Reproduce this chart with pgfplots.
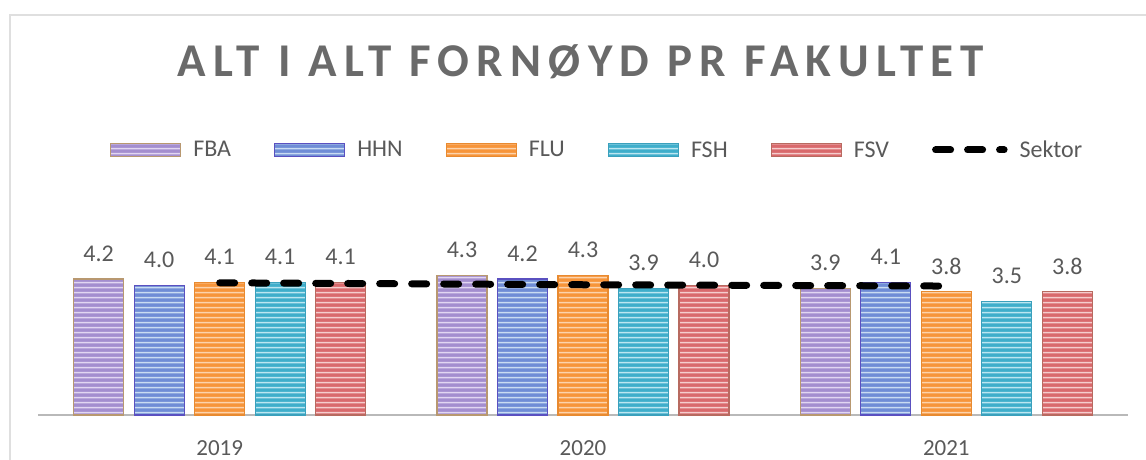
\documentclass[border=0pt]{standalone}
\usepackage{pgfplots}
\pgfplotsset{compat=1.18}
\usepackage{fontspec}
\setmainfont{Carlito}
\usetikzlibrary{patterns.meta}
\definecolor{txt}{HTML}{595959}
\definecolor{ttl}{HTML}{6A6A6A}
\definecolor{cFBA}{HTML}{A48ECF}
\definecolor{sFBA}{HTML}{E2D6F2}
\definecolor{dFBA}{HTML}{B89870}
\definecolor{cHHN}{HTML}{6F8DD6}
\definecolor{sHHN}{HTML}{C9DCF2}
\definecolor{dHHN}{HTML}{5A50C0}
\definecolor{cFLU}{HTML}{F7953A}
\definecolor{sFLU}{HTML}{FCD3AC}
\definecolor{dFLU}{HTML}{E88A30}
\definecolor{cFSH}{HTML}{3FAECB}
\definecolor{sFSH}{HTML}{BCE6F1}
\definecolor{dFSH}{HTML}{3AA0BC}
\definecolor{cFSV}{HTML}{D9696C}
\definecolor{sFSV}{HTML}{F5CDCD}
\definecolor{dFSV}{HTML}{B86A60}
\pgfplotsset{
  barstyle/.style n args={4}{ybar, bar width=50pt, bar shift=#4, fill=#1, draw=#3, line width=1.2pt,
     postaction={pattern={Lines[angle=0,distance=5.4pt,line width=1.6pt]}, pattern color=#2},
     every node near coord/.append style={xshift=#4}},
  sektorlegend/.style={legend image code/.code={\draw[##1] (3.5pt,0pt) -- (72pt,0pt);}},
}
\begin{document}
\begin{tikzpicture}
\useasboundingbox (0,0) rectangle (1146pt,460pt);
\draw[gray!25, line width=2pt] (10pt,-20pt) rectangle (1170pt,445pt);
\begin{axis}[
  at={(38pt,45pt)}, anchor=south west,
  scale only axis, width=1090pt, height=162pt,
  xmin=-0.5, xmax=2.5, ymin=0, ymax=5,
  axis x line=bottom, axis y line=none,
  x axis line style={-, draw=gray!55, line width=2pt},
  xtick={0,1,2}, xticklabels={2019,2020,2021},
  major tick length=0pt,
  xticklabel style={font=\fontsize{23}{27}\selectfont, text=txt, yshift=-22pt},
  clip=false,
  /pgf/number format/assume math mode=true,
  nodes near coords={\pgfmathprintnumber[fixed,fixed zerofill,precision=1]{\pgfplotspointmeta}},
  every node near coord/.append style={font=\fontsize{24}{28}\selectfont, text=txt, inner sep=0pt, anchor=south, yshift=17pt},
  title={\fontsize{47}{52}\selectfont\bfseries\addfontfeatures{LetterSpace=15.5}ALT I ALT FORNØYD PR FAKULTET},
  title style={at={(axis description cs:0.498,2.142)}, anchor=center, text=ttl, inner sep=0pt},
  legend columns=6,
  legend style={at={(axis description cs:0.066,1.636)}, anchor=west, draw=none, fill=none,
    font=\fontsize{24}{28}\selectfont, text=txt, inner sep=0pt,
    nodes={inner sep=0pt},
    /tikz/every odd column/.append style={column sep=12pt},
    /tikz/every even column/.append style={column sep=43pt}},
  legend image code/.code={\draw[#1] (0pt,-6.5pt) rectangle (70pt,6.5pt);},
]
\addplot[barstyle={cFBA}{sFBA}{dFBA}{-121pt}] coordinates {(0,4.2) (1,4.3) (2,3.9)};
\addlegendentry{FBA}
\addplot[barstyle={cHHN}{sHHN}{dHHN}{-60.5pt}] coordinates {(0,4.0) (1,4.2) (2,4.1)};
\addlegendentry{HHN}
\addplot[barstyle={cFLU}{sFLU}{dFLU}{0pt}] coordinates {(0,4.1) (1,4.3) (2,3.8)};
\addlegendentry{FLU}
\addplot[barstyle={cFSH}{sFSH}{dFSH}{60.5pt}] coordinates {(0,4.1) (1,3.9) (2,3.5)};
\addlegendentry{FSH}
\addplot[barstyle={cFSV}{sFSV}{dFSV}{121pt}] coordinates {(0,4.1) (1,4.0) (2,3.8)};
\addlegendentry{FSV}
\addplot[sharp plot, black, line width=7pt, line cap=round, dash pattern=on 15pt off 17pt, nodes near coords={}, sektorlegend] coordinates {(0,4.08) (1,4.02) (2,3.98)};
\addlegendentry{Sektor}
\end{axis}
\end{tikzpicture}
\end{document}
